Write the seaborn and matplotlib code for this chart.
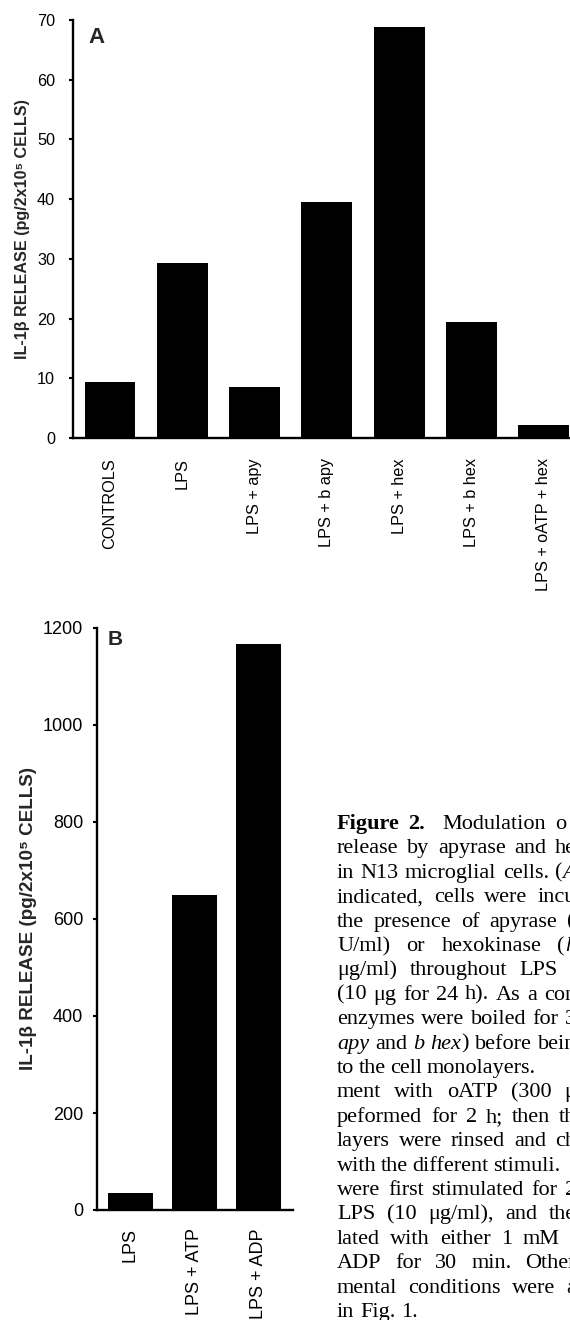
import matplotlib
matplotlib.use("Agg")
import matplotlib.pyplot as plt
import seaborn as sns

# ---------------- data ----------------
categories_a = ["CONTROLS", "LPS", "LPS + apy", "LPS + b apy", "LPS + hex",
                "LPS + b hex", "LPS + oATP + hex"]
values_a = [9.4, 29.3, 8.5, 39.5, 68.8, 19.4, 2.2]
yticks_a = [0, 10, 20, 30, 40, 50, 60, 70]

categories_b = ["LPS", "LPS + ATP", "LPS + ADP"]
values_b = [35, 649, 1167]
yticks_b = [0, 200, 400, 600, 800, 1000, 1200]

ylabel_text = "IL-1β RELEASE (pg/2x10⁵ CELLS)"

# caption lines (as printed, the column is cut by the right edge);
# * toggles italic, # toggles bold
caption_lines = [
    "#Figure# #2.#  Modulation o",
    "release by apyrase and he",
    "in N13 microglial cells. (*A*",
    "indicated, cells were incu",
    "the presence of apyrase (",
    "U/ml) or hexokinase (*h*",
    "μg/ml) throughout LPS t",
    "(10 μg for 24 h). As a con",
    "enzymes were boiled for 3",
    "*apy* and *b* *hex*) before bein",
    "to the cell monolayers.",
    "ment with oATP (300 μ",
    "peformed for 2 h; then th",
    "layers were rinsed and ch",
    "with the different stimuli.",
    "were first stimulated for 2",
    "LPS (10 μg/ml), and the",
    "lated with either 1 mM",
    "ADP for 30 min. Other",
    "mental conditions were a",
    "in Fig. 1.",
]
# right end (px) of each justified line as seen in the print; None = ragged
caption_right = [566, 576, 576, 576, 574, 576, 576, 576, 576, 576,
                 536, 576, 576, 576, 545, 576, 576, 560, 576, 576, None]

# ---------------- style ----------------
sns.set_theme(style="white")
plt.rcParams["font.family"] = ["Liberation Sans", "DejaVu Sans"]

W, H = 570, 1320
fig = plt.figure(figsize=(W / 100, H / 100), dpi=100)


def style_axes(ax, tick_size, ypad, xpad):
    for s in ["top", "right"]:
        ax.spines[s].set_visible(False)
    for s in ["left", "bottom"]:
        ax.spines[s].set_linewidth(1.7)
        ax.spines[s].set_color("black")
    ax.tick_params(axis="y", left=True, length=3, width=1.5, pad=ypad,
                   labelsize=tick_size, colors="black", direction="out")
    ax.tick_params(axis="x", bottom=False, length=0, pad=xpad,
                   labelsize=tick_size, labelrotation=90, colors="black")
    ax.set_xlabel("")
    ax.set_ylabel("")


# ---------------- panel A ----------------
axA = fig.add_axes([73 / W, 1 - 438 / H, 497 / W, 418 / H])
sns.barplot(x=categories_a, y=values_a, ax=axA, color="black",
            saturation=1, width=0.705, linewidth=0)
axA.set_xlim(-0.5115, 6.36)
axA.set_ylim(0, 70)
axA.set_yticks(yticks_a)
style_axes(axA, 11.7, 10, 14.4)
fig.text(88 / W, 1 - 27 / H, "A", fontsize=16, fontweight="bold",
         ha="left", va="top")
fig.text(23 / W, 1 - 229 / H, ylabel_text, rotation=90, fontsize=11.6,
         fontweight="bold", ha="center", va="center")

# ---------------- panel B ----------------
axB = fig.add_axes([97 / W, 1 - 1210 / H, 196 / W, 582 / H])
sns.barplot(x=categories_b, y=values_b, ax=axB, color="black",
            saturation=1, width=0.70, linewidth=0)
axB.set_xlim(-0.514, 2.537)
axB.set_ylim(0, 1200)
axB.set_yticks(yticks_b)
style_axes(axB, 13, 7, 13)
fig.text(108 / W, 1 - 630 / H, "B", fontsize=15, fontweight="bold",
         ha="left", va="top")
fig.text(28.5 / W, 1 - 918 / H, ylabel_text, rotation=90, fontsize=13.6,
         fontweight="bold", ha="center", va="center")

# ---------------- caption ----------------
cap_font = ["Liberation Serif", "DejaVu Serif"]
cap_size = 16
renderer = fig.canvas.get_renderer()
space_px = cap_size * 100 / 72 * 0.25


def parse_word(word):
    pieces = []
    mode = "n"
    buf = ""
    for ch in word:
        if ch in "*#":
            if buf:
                pieces.append((buf, mode))
                buf = ""
            m = "i" if ch == "*" else "b"
            mode = "n" if mode == m else m
        else:
            buf += ch
    if buf:
        pieces.append((buf, mode))
    return pieces


def make_text(x, y, text, mode):
    return fig.text(x / W, y, text, fontsize=cap_size, family=cap_font,
                    fontweight="bold" if mode == "b" else "normal",
                    fontstyle="italic" if mode == "i" else "normal",
                    ha="left", va="baseline", color="black")


x0 = 337
base0 = 829
step = 24.4
for i, line in enumerate(caption_lines):
    y = 1 - (base0 + step * i) / H
    words = [parse_word(w) for w in line.split(" ")]
    widths = []
    for w in words:
        tot = 0.0
        for text, mode in w:
            t = make_text(0, 0, text, mode)
            tot += t.get_window_extent(renderer).width
            t.remove()
        widths.append(tot)
    ngaps = len(words) - 1
    gap = space_px
    if caption_right[i] is not None and ngaps > 0:
        gap = (caption_right[i] - x0 - sum(widths)) / ngaps
        gap = max(gap, space_px * 0.8)
    x = x0
    for w, wd in zip(words, widths):
        xx = x
        for text, mode in w:
            t = make_text(xx, y, text, mode)
            xx += t.get_window_extent(renderer).width
        x += wd + gap

fig.savefig("out.png", dpi=100, facecolor="white")
